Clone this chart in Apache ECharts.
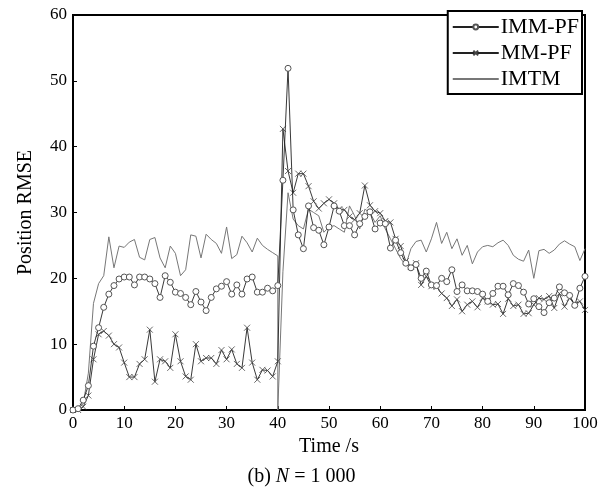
<!DOCTYPE html>
<html>
<head>
<meta charset="utf-8">
<script src="https://cdn.jsdelivr.net/npm/echarts@6/dist/echarts.min.js"></script>
<style>
  html, body { margin: 0; padding: 0; background: #fff; }
  #chart { width: 603px; height: 494px; }
</style>
</head>
<body>
<div id="chart"></div>
<script>
// RMSE values, one sample per second (t = 0 ... 100)
var immPf = [
  0, 0.2, 1.5, 3.7, 9.7, 12.5, 15.6, 17.6, 18.9, 19.9,
  20.2, 20.2, 19.0, 20.2, 20.2, 19.9, 19.2, 17.1, 20.4, 19.4,
  17.9, 17.7, 17.1, 16.0, 18.0, 16.4, 15.1, 17.1, 18.4, 18.8,
  19.5, 17.6, 19.0, 17.6, 19.9, 20.2, 17.9, 17.9, 18.5, 18.1,
  18.9, 34.9, 51.9, 30.4, 26.6, 24.5, 31.0, 27.7, 27.3, 25.1,
  27.8, 31.0, 30.2, 28.0, 28.0, 26.6, 28.3, 29.4, 30.1, 27.5,
  28.4, 28.3, 24.6, 25.8, 23.9, 22.3, 21.6, 22.1, 20.0, 21.1,
  19.0, 18.9, 20.0, 19.5, 21.3, 18.0, 19.0, 18.1, 18.1, 18.0,
  17.6, 16.5, 17.7, 18.8, 18.8, 17.5, 19.2, 18.9, 17.9, 16.1,
  16.9, 15.7, 14.8, 16.3, 17.0, 18.7, 17.8, 17.4, 15.9, 18.5,
  20.3
]
var mmPf = [
  0, 0, 0.5, 2.2, 7.7, 11.5, 12.0, 11.3, 10.0, 9.5,
  7.2, 5.0, 5.0, 7.0, 7.7, 12.2, 4.3, 7.7, 7.4, 6.4,
  11.5, 7.4, 5.1, 4.6, 10.0, 7.4, 7.9, 7.9, 7.0, 9.1,
  7.7, 9.2, 7.0, 6.4, 12.5, 7.2, 4.6, 6.1, 6.0, 5.1,
  7.4, 42.7, 36.3, 33.0, 35.9, 35.9, 34.0, 31.7, 30.6, 31.4,
  32.0, 31.4, 30.5, 30.4, 29.4, 28.9, 29.9, 34.1, 31.1, 30.2,
  29.9, 28.7, 28.5, 26.0, 24.9, 22.6, 21.8, 22.3, 19.0, 20.3,
  18.8, 18.7, 17.7, 17.0, 15.8, 16.8, 15.0, 16.0, 16.5, 15.6,
  17.0, 16.5, 16.0, 16.1, 14.6, 16.9, 15.8, 16.0, 14.6, 14.7,
  16.0, 17.0, 16.8, 17.3, 15.5, 17.7, 15.7, 17.0, 16.1, 16.5,
  15.2
]
// IMTM: [time, value] pairs, it drops to zero at t = 40
var imtm = [
  [0, 0], [1, 0.1], [2, 1.0], [3, 5.6], [4, 16.2], [5, 19.2], [6, 20.4], [7, 26.3], [8, 21.6], [9, 24.9],
  [10, 24.7], [11, 25.5], [12, 25.9], [13, 23.2], [14, 22.8], [15, 25.9], [16, 26.2], [17, 23.1], [18, 21.6], [19, 24.9],
  [20, 23.8], [21, 20.4], [22, 21.3], [23, 26.6], [24, 26.4], [25, 23.1], [26, 26.7], [27, 25.9], [28, 25.3], [29, 23.8],
  [30, 27.8], [31, 23.0], [32, 23.6], [33, 26.4], [34, 25.4], [35, 24.0], [36, 26.1], [37, 25.0], [38, 24.4], [39, 23.9],
  [40, 23.4], [40, 0], [41, 21], [42, 33], [43, 29], [44, 28], [45, 27.5], [46, 30.5], [47, 30], [48, 29.5], [49, 27],
  [50, 27.8], [51, 28], [52, 27.5], [53, 27], [54, 31], [55, 29.5], [56, 27.5], [57, 30.5], [58, 30], [59, 28.5],
  [60, 29.5], [61, 27.5], [62, 26], [63, 24.5], [64, 23], [65, 22], [66, 24.5], [67, 25.6], [68, 25.8], [69, 24],
  [70, 26], [71, 28.5], [72, 25.3], [73, 27], [74, 24.5], [75, 26], [76, 23.5], [77, 25], [78, 22.2], [79, 24],
  [80, 24.8], [81, 25], [82, 24.8], [83, 25.4], [84, 25.8], [85, 25], [86, 23.5], [87, 22.9], [88, 22.6], [89, 24.3],
  [90, 20], [91, 24.2], [92, 24.4], [93, 23.8], [94, 24.3], [95, 25.2], [96, 25.7], [97, 25.2], [98, 24.8], [99, 22.7],
  [100, 24.5]
]
var xTicks = { min: 0, max: 100, step: 10 }
var yTicks = { min: 0, max: 60, step: 10 }

var serif = '"Liberation Serif", "Times New Roman", serif'

function withTime(values) {
  return values.map(function (v, i) { return [i, v] })
}

var chart = echarts.init(document.getElementById('chart'))
chart.setOption({
  animation: false,
  backgroundColor: '#fff',
  grid: {
    left: 73,
    right: 18,
    top: 15,
    bottom: 84,
    show: true,
    borderColor: '#000',
    borderWidth: 2
  },
  title: {
    text: '(b) {i|N} = 1 000',
    left: 'center',
    bottom: 2,
    textStyle: {
      fontFamily: serif,
      fontSize: 20,
      fontWeight: 'normal',
      color: '#000',
      rich: {
        i: { fontFamily: serif, fontSize: 20, fontStyle: 'italic', color: '#000' }
      }
    }
  },
  legend: {
    orient: 'vertical',
    right: 21,
    top: 11,
    padding: [5, 3, 4, 4],
    itemGap: 4,
    itemWidth: 46,
    itemHeight: 6,
    borderColor: '#000',
    borderWidth: 2,
    backgroundColor: '#fff',
    textStyle: { fontFamily: serif, fontSize: 22, color: '#000', padding: [0, 0, 0, -3] },
    data: [
      'IMM-PF',
      'MM-PF',
      { name: 'IMTM', itemStyle: { color: 'rgba(0,0,0,0)', borderWidth: 0 } }
    ]
  },
  xAxis: {
    type: 'value',
    min: xTicks.min,
    max: xTicks.max,
    interval: xTicks.step,
    name: 'Time /s',
    nameLocation: 'middle',
    nameGap: 27,
    nameTextStyle: { fontFamily: serif, fontSize: 20, color: '#000' },
    axisLine: { lineStyle: { color: '#000', width: 2 } },
    axisTick: { inside: true, length: 4, lineStyle: { color: '#000' } },
    axisLabel: { fontFamily: serif, fontSize: 17, color: '#000', margin: 5 },
    splitLine: { show: false }
  },
  yAxis: {
    type: 'value',
    min: yTicks.min,
    max: yTicks.max,
    interval: yTicks.step,
    name: 'Position RMSE',
    nameLocation: 'middle',
    nameGap: 37,
    nameTextStyle: { fontFamily: serif, fontSize: 20, color: '#000' },
    axisLine: { lineStyle: { color: '#000', width: 2 } },
    axisTick: { inside: true, length: 4, lineStyle: { color: '#000' } },
    axisLabel: { fontFamily: serif, fontSize: 17, color: '#000', margin: 6 },
    splitLine: { show: false }
  },
  series: [
    {
      name: 'IMM-PF',
      type: 'line',
      data: withTime(immPf),
      symbol: 'circle',
      symbolSize: 6,
      itemStyle: { color: '#fff', borderColor: '#555', borderWidth: 1 },
      lineStyle: { color: '#222', width: 0.9 },
      z: 3
    },
    {
      name: 'MM-PF',
      type: 'line',
      data: withTime(mmPf),
      symbol: 'path://M0,0L10,10M10,0L0,10',
      symbolSize: 6,
      itemStyle: { color: '#444', borderColor: '#444', borderWidth: 0.8 },
      lineStyle: { color: '#222', width: 0.9 },
      z: 2
    },
    {
      name: 'IMTM',
      type: 'line',
      data: imtm,
      showSymbol: false,
      symbol: 'none',
      itemStyle: { color: '#777' },
      lineStyle: { color: '#777', width: 1 },
      z: 1
    }
  ]
})
</script>
</body>
</html>
